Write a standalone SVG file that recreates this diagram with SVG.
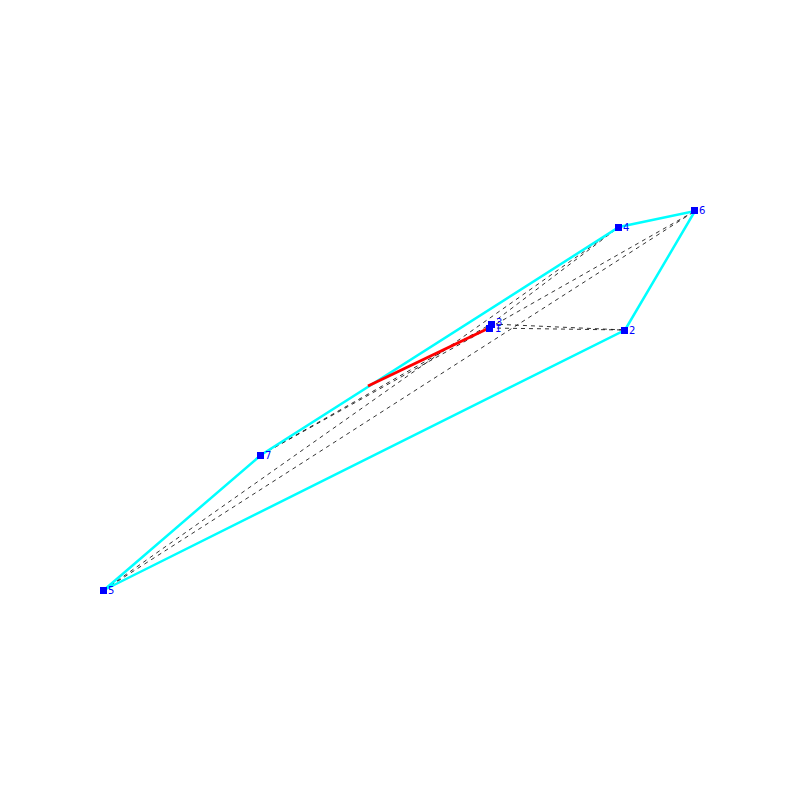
<svg xmlns="http://www.w3.org/2000/svg" width="800" height="800" viewBox="0 0 800 800">
<style>
.hull{stroke:#00ffff;stroke-width:2.5;fill:none}
.tri{stroke:#000;stroke-width:0.8;stroke-dasharray:4,4;fill:none}
.red{stroke:#ff0000;stroke-width:3;fill:none}
.nd{fill:#0000ff}
.lb{font-family:"DejaVu Sans",sans-serif;font-size:10px;fill:#0000ff}
</style>
<rect width="800" height="800" fill="#fff"/>
<g id="connectors">
<line class="tri" x1="489" y1="328" x2="625" y2="330"/>
<line class="tri" x1="491" y1="324" x2="625" y2="330"/>
<line class="tri" x1="489" y1="328" x2="695" y2="211"/>
<line class="tri" x1="491" y1="324" x2="619" y2="227"/>
<line class="tri" x1="104" y1="590" x2="619" y2="227"/>
<line class="tri" x1="104" y1="590" x2="695" y2="211"/>
<line class="tri" x1="261" y1="455" x2="491" y2="324"/>
<line class="tri" x1="261" y1="455" x2="489" y2="328"/>
<polygon class="hull" points="104,590 261,455 619,227 695,211 625,330"/>
<line class="red" x1="368" y1="386" x2="489" y2="328"/>
</g>
<g id="n1"><rect class="nd" x="486" y="325" width="7" height="7"/><text class="lb" x="495" y="332">1</text></g>
<g id="n3"><rect class="nd" x="488" y="321" width="7" height="7"/><text class="lb" x="496" y="326">3</text></g>
<g id="n2"><rect class="nd" x="621" y="327" width="7" height="7"/><text class="lb" x="629" y="334">2</text></g>
<g id="n4"><rect class="nd" x="615" y="224" width="7" height="7"/><text class="lb" x="623" y="231">4</text></g>
<g id="n6"><rect class="nd" x="691" y="207" width="7" height="7"/><text class="lb" x="699" y="214">6</text></g>
<g id="n7"><rect class="nd" x="257" y="452" width="7" height="7"/><text class="lb" x="265" y="459">7</text></g>
<g id="n5"><rect class="nd" x="100" y="587" width="7" height="7"/><text class="lb" x="108" y="594">5</text></g>
</svg>
